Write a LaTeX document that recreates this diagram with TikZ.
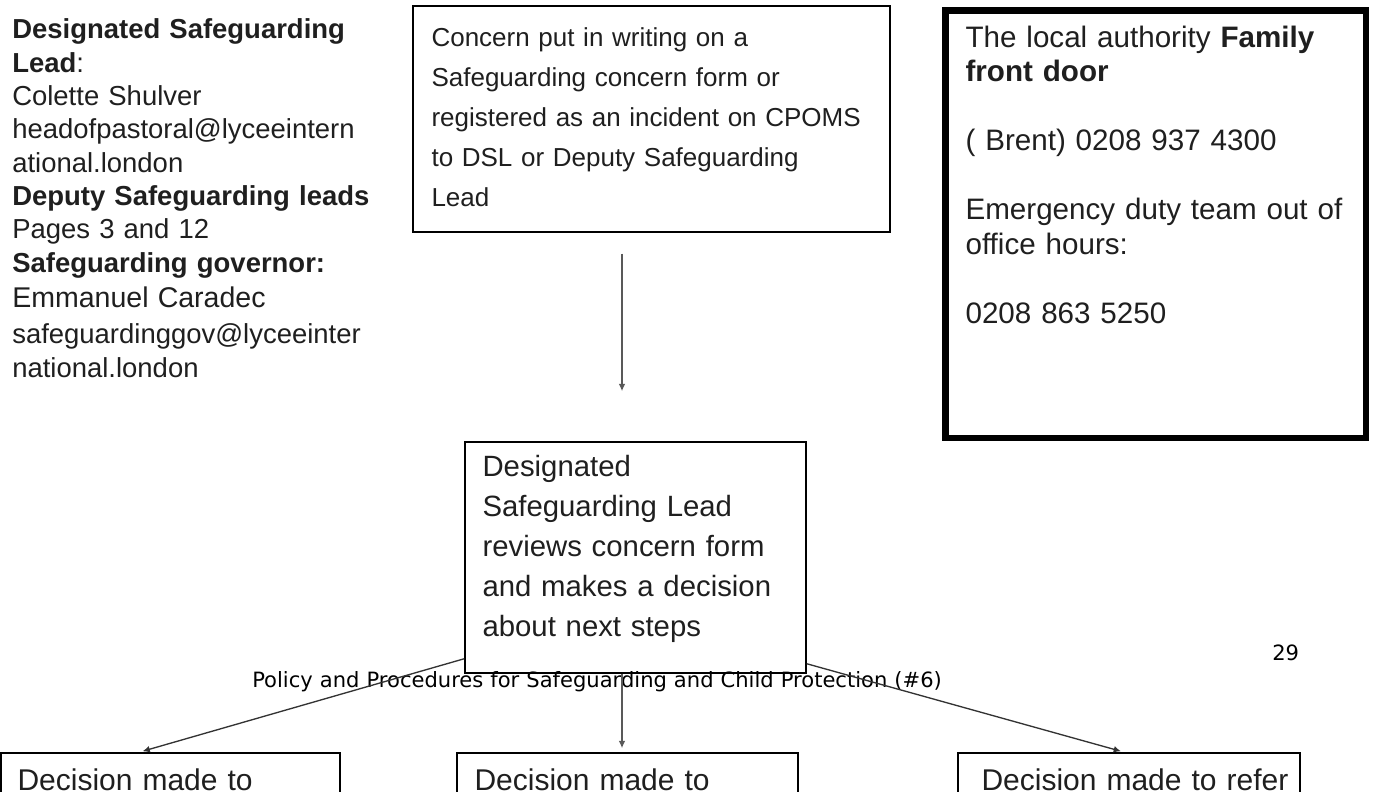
\documentclass[tikz,border=0pt]{standalone}
\usepackage{fontspec}
\setmainfont{Liberation Sans}
\newfontfamily\footfont{DejaVu Sans}
\usetikzlibrary{arrows.meta, positioning, calc, fit}

\begin{document}
\begin{tikzpicture}[x=0.75pt, y=-0.75pt,
    box/.style={draw, line width=1.1pt, inner sep=0pt},
    txt/.style={inner sep=0pt, anchor=base west, align=left, text width=340pt, text=black!88},
    foot/.style={txt, text=black, text width=560pt, font=\footfont\fontsize{15.8}{19}\selectfont},
    flow/.style={draw=black!65, line width=1.4pt, -{Latex[length=5.5pt, width=5pt]}},
    slant/.style={flow, draw=black!80, line width=1pt}]
    \useasboundingbox (0,0) rectangle (1375,792);

    % footer of the page
    \node[foot] (footer) at (252,687) {Policy and Procedures for Safeguarding and Child Protection (\#6)};
    \node[foot, text width=30pt] (pagenum) at (1272,660) {29};

    % contacts
    \node[txt, font=\fontsize{20.6}{25}\selectfont] (contacts) at (12,39) {\textbf{Designated Safeguarding}\\
      \textbf{Lead}:\\
      Colette Shulver\\
      headofpastoral@lyceeintern\\
      ational.london\\
      \textbf{Deputy Safeguarding leads}\\
      Pages 3 and 12\\
      \textbf{Safeguarding governor:}\\[1.3pt]
      {\fontsize{21.4}{25}\selectfont Emmanuel Caradec}\\[2pt]
      safeguardinggov@lyceeinter\\[0.5pt]
      national.london};

    % boxes
    \node[box, fit={(413,6) (890,232)}] (concern) {};
    \node[box, line width=4.8pt, fit={(945.5,10.5) (1366,438)}] (family) {};
    \node[box, fit={(465,442) (806,673)}] (review) {};
    \node[box, fit={(1,753) (340,830)}] (leftbox) {};
    \node[box, fit={(457,753) (798,830)}] (midbox) {};
    \node[box, fit={(958,753) (1300,830)}] (rightbox) {};

    \node[txt, font=\fontsize{19.5}{30}\selectfont] (concerntxt) at ($(concern.north west)+(19,41)$) {Concern put in writing on a\\
      Safeguarding concern form or\\
      registered as an incident on CPOMS\\
      to DSL or Deputy Safeguarding\\
      Lead};
    \node[txt, font=\fontsize{22.2}{25.9}\selectfont] (familytxt) at ($(family.north west)+(23,40)$) {The local authority \textbf{Family}\\
      \textbf{front door}\\[\baselineskip]
      ( Brent) 0208 937 4300\\[\baselineskip]
      Emergency duty team out of\\
      office hours:\\[\baselineskip]
      0208 863 5250};
    \node[txt, font=\fontsize{22}{30}\selectfont] (reviewtxt) at ($(review.north west)+(18,35)$) {Designated\\
      Safeguarding Lead\\
      reviews concern form\\
      and makes a decision\\
      about next steps};
    \node[txt, font=\fontsize{22.5}{28}\selectfont] (lefttxt) at ($(leftbox.north west)+(17,38)$) {Decision made to};
    \node[txt, font=\fontsize{22.5}{28}\selectfont] (midtxt) at ($(midbox.north west)+(18,38)$) {Decision made to};
    \node[txt, font=\fontsize{22.5}{28}\selectfont] (righttxt) at ($(rightbox.north west)+(24,38)$) {Decision made to refer};

    % arrows
    \coordinate (mid) at (622,0);
    \draw[flow] ($(concern.south -| mid)+(0,21)$) -- ($(review.north -| mid)+(0,-50)$);
    \draw[flow] (review.south -| mid) -- ($(midbox.north -| mid)+(0,-4)$);
    \draw[slant] ($(review.south west)+(0,-15)$) -- ($(leftbox.north)+(-28,-1)$);
    \draw[slant] ($(review.south east)+(0,-10)$) -- ($(rightbox.north)+(-8,-1)$);
  \end{tikzpicture}
\end{document}
